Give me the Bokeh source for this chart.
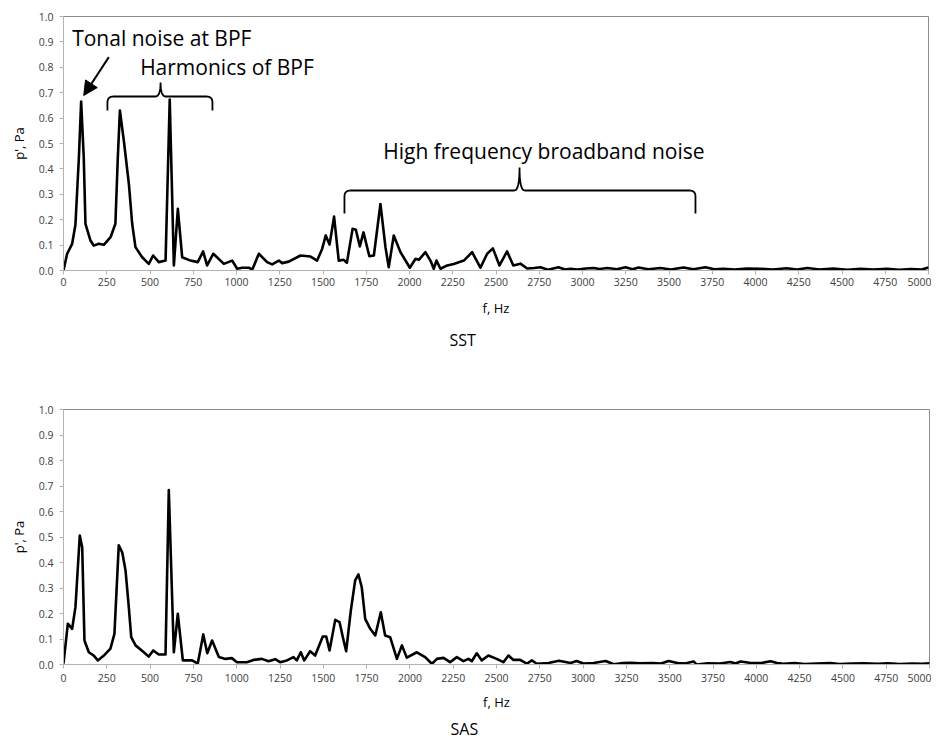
from bokeh.plotting import figure
from bokeh.layouts import column
from bokeh.models import Label, Arrow, NormalHead, FixedTicker, NumeralTickFormatter, Range1d, Title
from bokeh.embed import file_html
from bokeh.resources import INLINE

# ---------------- data ----------------
sst_f = [0, 21, 50, 69, 89, 102, 117, 127, 156, 175, 204, 233, 272, 300, 314, 326, 349, 378, 397, 416,
         455, 493, 518, 551, 590, 614, 638, 661, 686, 734, 776, 807, 830, 866, 927, 975, 1004, 1033,
         1071, 1091, 1129, 1177, 1206, 1245, 1264, 1302, 1370, 1428, 1466, 1495, 1516, 1538, 1564,
         1591, 1620, 1638, 1671, 1690, 1713, 1734, 1768, 1794, 1832, 1861, 1880, 1909, 1948, 2002,
         2035, 2054, 2092, 2121, 2140, 2156, 2179, 2218, 2256, 2314, 2362, 2410, 2449, 2482, 2520,
         2564, 2600, 2641, 2680, 2720, 2757, 2800, 2861, 2900, 2930, 2970, 3020, 3063, 3100, 3144,
         3200, 3248, 3290, 3324, 3380, 3451, 3510, 3584, 3640, 3711, 3760, 3815, 3880, 3950, 4029,
         4100, 4180, 4240, 4300, 4370, 4450, 4530, 4607, 4680, 4760, 4830, 4900, 4960, 5000]
sst_p = [0.0, 0.066, 0.105, 0.18, 0.446, 0.665, 0.446, 0.184, 0.118, 0.098, 0.105, 0.101, 0.131, 0.184,
         0.446, 0.63, 0.51, 0.34, 0.184, 0.092, 0.052, 0.026, 0.059, 0.033, 0.039, 0.673, 0.02, 0.243,
         0.052, 0.039, 0.033, 0.075, 0.02, 0.066, 0.026, 0.039, 0.007, 0.011, 0.011, 0.003, 0.066,
         0.033, 0.024, 0.039, 0.029, 0.035, 0.059, 0.055, 0.039, 0.085, 0.138, 0.102, 0.212, 0.039,
         0.042, 0.03, 0.164, 0.16, 0.095, 0.15, 0.056, 0.059, 0.262, 0.092, 0.013, 0.138, 0.072,
         0.011, 0.046, 0.042, 0.072, 0.039, 0.007, 0.039, 0.007, 0.02, 0.026, 0.039, 0.072, 0.011,
         0.066, 0.087, 0.02, 0.075, 0.02, 0.027, 0.008, 0.01, 0.013, 0.003, 0.013, 0.004, 0.007,
         0.004, 0.008, 0.01, 0.006, 0.01, 0.005, 0.013, 0.005, 0.012, 0.005, 0.01, 0.004, 0.012,
         0.005, 0.013, 0.005, 0.007, 0.004, 0.008, 0.007, 0.004, 0.009, 0.004, 0.01, 0.004, 0.008,
         0.003, 0.007, 0.004, 0.007, 0.003, 0.006, 0.004, 0.012]

sas_f = [0, 25, 50, 69, 94, 108, 121, 146, 175, 198, 233, 271, 294, 319, 339, 358, 377, 391, 416, 464,
         492, 518, 550, 589, 608, 637, 660, 689, 743, 775, 807, 830, 858, 897, 935, 972, 1001, 1058,
         1097, 1145, 1184, 1222, 1251, 1290, 1328, 1347, 1370, 1390, 1424, 1453, 1497, 1517, 1536,
         1569, 1594, 1613, 1632, 1659, 1684, 1703, 1722, 1742, 1771, 1800, 1832, 1857, 1886, 1925,
         1954, 1982, 2040, 2088, 2127, 2156, 2194, 2232, 2271, 2309, 2338, 2357, 2386, 2415, 2453,
         2501, 2540, 2569, 2598, 2636, 2675, 2704, 2733, 2800, 2860, 2928, 2962, 3002, 3060, 3130,
         3176, 3230, 3274, 3330, 3400, 3450, 3494, 3550, 3600, 3638, 3655, 3720, 3790, 3851, 3880,
         3909, 3960, 4030, 4082, 4120, 4157, 4220, 4280, 4350, 4428, 4480, 4550, 4620, 4700, 4760,
         4830, 4900, 4960, 5000]
sas_p = [0.003, 0.16, 0.14, 0.225, 0.506, 0.46, 0.094, 0.048, 0.035, 0.016, 0.035, 0.062, 0.12, 0.467,
         0.44, 0.37, 0.225, 0.107, 0.075, 0.048, 0.031, 0.055, 0.039, 0.039, 0.684, 0.048, 0.199,
         0.016, 0.016, 0.003, 0.118, 0.044, 0.094, 0.029, 0.022, 0.025, 0.009, 0.009, 0.018, 0.022,
         0.013, 0.021, 0.009, 0.016, 0.029, 0.016, 0.048, 0.016, 0.052, 0.035, 0.11, 0.11, 0.055,
         0.175, 0.166, 0.107, 0.052, 0.212, 0.33, 0.353, 0.303, 0.179, 0.14, 0.114, 0.205, 0.114,
         0.107, 0.022, 0.075, 0.027, 0.048, 0.029, 0.003, 0.022, 0.026, 0.009, 0.029, 0.013, 0.022,
         0.013, 0.044, 0.016, 0.035, 0.022, 0.009, 0.035, 0.018, 0.018, 0.003, 0.016, 0.003, 0.006,
         0.015, 0.006, 0.014, 0.004, 0.006, 0.014, 0.001, 0.006, 0.007, 0.005, 0.006, 0.004, 0.014,
         0.005, 0.006, 0.012, 0.0, 0.005, 0.004, 0.01, 0.004, 0.012, 0.007, 0.006, 0.013, 0.006,
         0.003, 0.006, 0.002, 0.004, 0.006, 0.002, 0.004, 0.005, 0.003, 0.005, 0.002, 0.004, 0.003,
         0.005]

x_ticks = list(range(0, 5001, 250))
y_ticks = [0.0, 0.1, 0.2, 0.3, 0.4, 0.5, 0.6, 0.7, 0.8, 0.9, 1.0]

TICK_FONT = "Open Sans"
TEXT_FONT = "Open Sans"


def style(p, tick_standoff, label_standoff):
    p.xaxis.ticker = FixedTicker(ticks=x_ticks)
    p.yaxis.ticker = FixedTicker(ticks=y_ticks)
    p.yaxis.formatter = NumeralTickFormatter(format="0.0")
    p.xgrid.visible = False
    p.ygrid.visible = False
    for ax in (p.xaxis[0], p.yaxis[0]):
        ax.axis_line_color = "#b3b3b3"
        ax.major_tick_line_color = "#b3b3b3"
        ax.minor_tick_line_color = None
        ax.major_tick_in = 0
        ax.major_tick_out = 4
        ax.major_label_text_font = TICK_FONT
        ax.major_label_text_font_size = "10.5px"
        ax.major_label_text_color = "#404040"
        ax.axis_label_text_font = TEXT_FONT
        ax.axis_label_text_font_size = "13px"
        ax.axis_label_text_font_style = "normal"
        ax.axis_label_text_color = "#000000"
    p.xaxis.major_label_standoff = tick_standoff
    p.xaxis.axis_label_standoff = label_standoff
    p.yaxis.major_label_standoff = 6
    p.yaxis.axis_label_standoff = 8
    p.xaxis.axis_label = "f, Hz"
    p.yaxis.axis_label = "p', Pa"
    p.outline_line_color = "#8c8c8c"
    p.outline_line_width = 1
    p.background_fill_color = "white"
    p.border_fill_color = "white"


def caption(p, text, offset, standoff):
    t = Title(text=text, align="left", offset=offset, standoff=standoff,
              text_font=TEXT_FONT, text_font_size="16px", text_font_style="normal",
              text_color="black")
    p.add_layout(t, "below")


def qbez(p0, c, p1, n=8):
    pts = []
    for i in range(n + 1):
        t = i / n
        x = (1 - t) ** 2 * p0[0] + 2 * (1 - t) * t * c[0] + t ** 2 * p1[0]
        y = (1 - t) ** 2 * p0[1] + 2 * (1 - t) * t * c[1] + t ** 2 * p1[1]
        pts.append((x, y))
    return pts


def brace(x0, x1, xm, yh, yend, ytip, rx=35, ry=0.024, tx=30):
    pts = [(x0, yend)]
    pts += qbez((x0, yh - ry), (x0, yh), (x0 + rx, yh))
    pts += qbez((xm - tx, yh), (xm, yh), (xm, ytip))
    pts += qbez((xm, ytip), (xm, yh), (xm + tx, yh))
    pts += qbez((x1 - rx, yh), (x1, yh), (x1, yh - ry))
    pts.append((x1, yend))
    return [a for a, b in pts], [b for a, b in pts]


# ---------------- top (SST) ----------------
p1 = figure(frame_width=865, frame_height=254, x_range=Range1d(0, 5000), y_range=Range1d(0, 1),
            output_backend="svg", toolbar_location=None,
            min_border_left=63, min_border_right=3, min_border_top=16, min_border_bottom=129)
style(p1, 3, 10)
p1.line(sst_f, sst_p, line_color="black", line_width=2.6, line_join="round")

bx, by = brace(254, 861, 561, 0.685, 0.63, 0.74)
p1.line(bx, by, line_color="black", line_width=1.8)
bx, by = brace(1624, 3653, 2636, 0.315, 0.224, 0.405)
p1.line(bx, by, line_color="black", line_width=1.8)

p1.add_layout(Arrow(end=NormalHead(size=14, fill_color="black", line_color="black"),
                    x_start=262, y_start=0.84, x_end=117, y_end=0.689,
                    line_color="black", line_width=2))

for txt, x, y in [("Tonal noise at BPF", 50, 0.917),
                  ("Harmonics of BPF", 443, 0.80),
                  ("High frequency broadband noise", 1848, 0.472)]:
    p1.add_layout(Label(x=x, y=y, text=txt, text_font=TEXT_FONT, text_font_size="21px",
                        text_baseline="middle", text_align="left", text_color="black"))

caption(p1, "SST", 386, 14)

# ---------------- bottom (SAS) ----------------
p2 = figure(frame_width=866, frame_height=255, x_range=Range1d(0, 5000), y_range=Range1d(0, 1),
            output_backend="svg", toolbar_location=None,
            min_border_left=60, min_border_right=5, min_border_top=10, min_border_bottom=72)
style(p2, 5, 8)
p2.line(sas_f, sas_p, line_color="black", line_width=2.6, line_join="round")
caption(p2, "SAS", 387, 4)

layout = column(p1, p2, spacing=0)
open("out.html", "w").write(file_html(layout, INLINE))
